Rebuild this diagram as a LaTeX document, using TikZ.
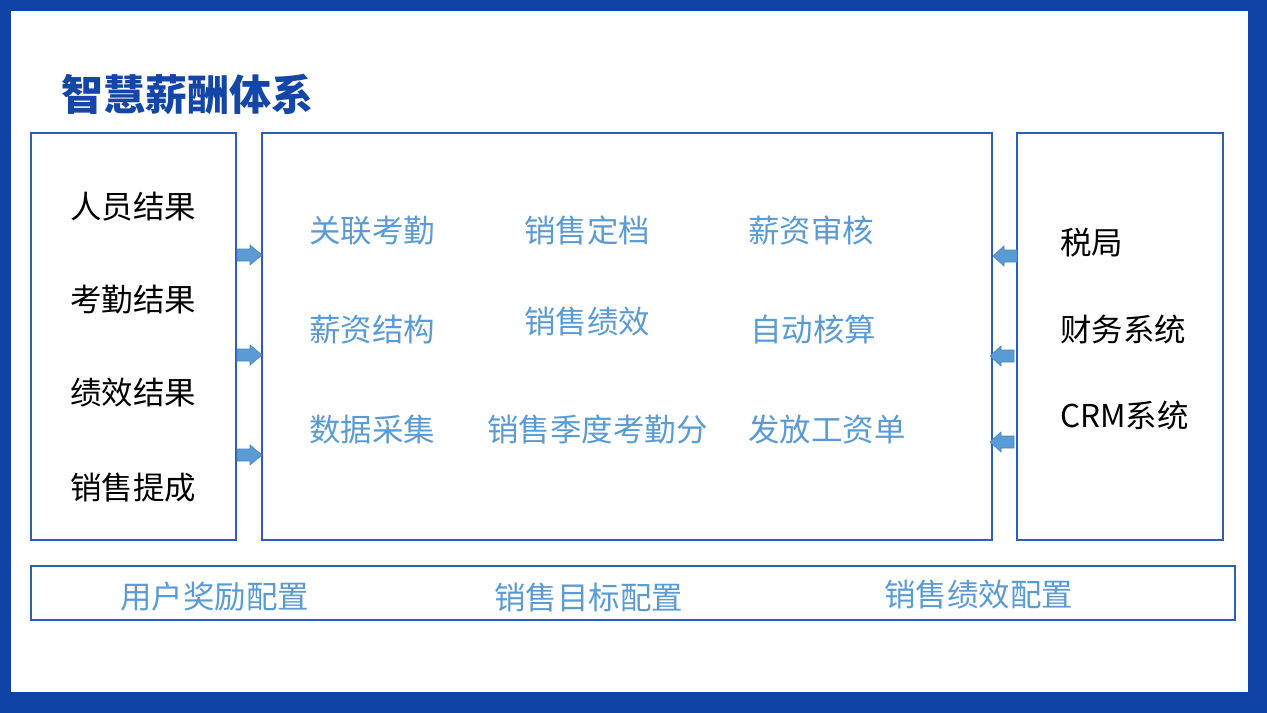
\documentclass[tikz,border=0pt]{standalone}
\usepackage{fontspec}
\newfontfamily\cjk{Noto Sans CJK SC}
\definecolor{frameblue}{HTML}{0F44A6}
\definecolor{titleblue}{HTML}{1446A8}
\definecolor{boxblue}{HTML}{2D5DBD}
\definecolor{lightblue}{HTML}{5B9BD5}
\definecolor{arrowedge}{HTML}{4A86C2}
\tikzset{
  box/.style={draw=boxblue, line width=1.2pt},
  lbl/.style={anchor=west, inner sep=0pt, text height=17.2pt, text depth=0pt,
    font=\cjk\fontsize{23.6}{28}\selectfont},
  blk/.style={lbl, text=black},
  blu/.style={lbl, text=lightblue},
  barrow/.style={fill=lightblue, draw=arrowedge, line width=0.5pt},
}
\begin{document}
\begin{tikzpicture}[x=0.75pt, y=-0.75pt]
\useasboundingbox (0,0) rectangle (1267,713);
\fill[frameblue] (0,0) rectangle (1267,713);
\fill[white] (11,11) rectangle (1248,692);

\node[anchor=west, inner sep=0pt, text=titleblue, text height=22.9pt, text depth=0pt,
  font=\cjk\bfseries\fontsize{31.5}{36}\selectfont] (title) at (61,95) {智慧薪酬体系};

\draw[box] (31,133) rectangle (236,540);
\draw[box] (262,133) rectangle (992,540);
\draw[box] (1017,133) rectangle (1223,540);
\draw[box] (31,566) rectangle (1235,620);

% left column
\node[blk] (l1) at (70,207) {人员结果};
\node[blk] (l2) at (70,300) {考勤结果};
\node[blk] (l3) at (70,393) {绩效结果};
\node[blk] (l4) at (70,488) {销售提成};

% middle
\node[blu] (m11) at (309,231) {关联考勤};
\node[blu] (m12) at (524,231) {销售定档};
\node[blu] (m13) at (748,231) {薪资审核};
\node[blu] (m21) at (309,330) {薪资结构};
\node[blu] (m22) at (524,322) {销售绩效};
\node[blu] (m23) at (750,330) {自动核算};
\node[blu] (m31) at (309,430) {数据采集};
\node[blu] (m32) at (487,430) {销售季度考勤分};
\node[blu] (m33) at (748,430) {发放工资单};

% right
\node[blk] (r1) at (1060,243) {税局};
\node[blk] (r2) at (1060,330) {财务系统};
\node[blk] (r3) at (1060,416) {CRM系统};

% bottom
\node[blu] (b1) at (120,597) {用户奖励配置};
\node[blu] (b2) at (494,598) {销售目标配置};
\node[blu] (b3) at (884,595) {销售绩效配置};

% arrows left -> middle
\foreach \c in {255,355,455}{
  \draw[barrow] (237,\c-6) -- (250,\c-6) -- (250,\c-10) -- (262,\c) -- (250,\c+10)
    -- (250,\c+6) -- (237,\c+6) -- cycle;
}
% arrows right -> middle
\foreach \c/\t in {256/1017,356/1014,442/1014}{
  \draw[barrow] (\t,\c-6) -- (\t-13,\c-6) -- (\t-13,\c-10) -- (\t-24,\c) -- (\t-13,\c+10)
    -- (\t-13,\c+6) -- (\t,\c+6) -- cycle;
}
\end{tikzpicture}
\end{document}
